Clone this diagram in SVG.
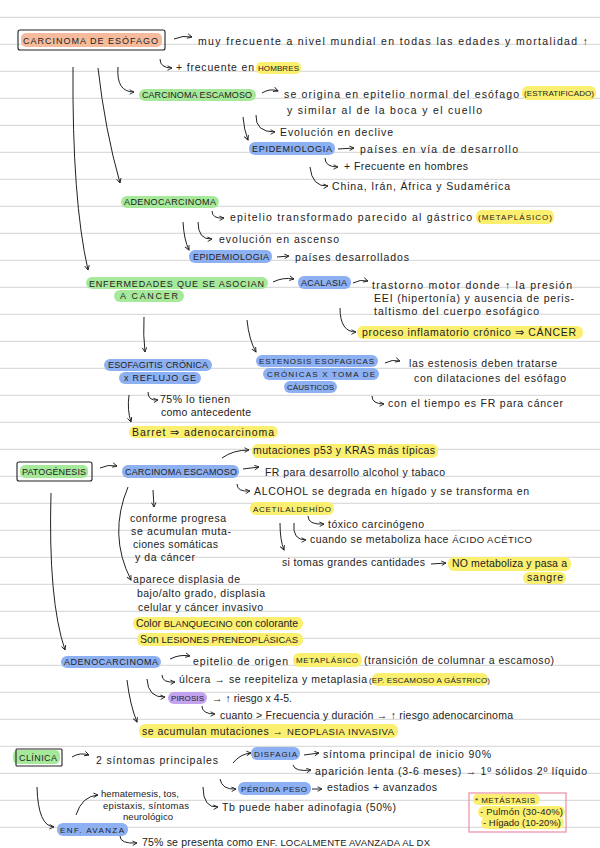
<svg xmlns="http://www.w3.org/2000/svg" width="600" height="848" viewBox="0 0 600 848">
<style>
.bg{fill:#ffffff}
.rule{stroke:#dcdcdc;stroke-width:1.3}
.t{font-family:"Liberation Sans",Arial,sans-serif;font-size:10.5px;fill:#222}
.s{font-family:"Liberation Sans",Arial,sans-serif;font-size:9.5px;fill:#222}
.c{font-family:"Liberation Sans",Arial,sans-serif;font-size:9px;fill:#222}
.c2{font-family:"Liberation Sans",Arial,sans-serif;font-size:8px;fill:#222}
.k{font-size:9.5px}
.g{fill:#a6e99b}
.b{fill:#8db0f2}
.y{fill:#fbef70}
.o{fill:#f5bb9c}
.p{fill:#c3a2f0}
.box{fill:none;stroke:#222;stroke-width:1.1}
.pink{fill:none;stroke:#ec8ea2;stroke-width:1.2}
.cn path{fill:none;stroke:#222;stroke-width:1;marker-end:url(#ah)}
</style>
<defs>
<marker id="ah" viewBox="0 0 8 8" refX="7" refY="4" markerWidth="6" markerHeight="6" orient="auto" markerUnits="userSpaceOnUse">
<path d="M1,1 L7,4 L1,7" fill="none" stroke="#222" stroke-width="1.2"/>
</marker>
</defs>
<rect class="bg" x="0" y="0" width="600" height="848"/>
<g id="rules">
<line class="rule" x1="0" y1="17.3" x2="600" y2="17.3"/>
<line class="rule" x1="0" y1="44.3" x2="600" y2="44.3"/>
<line class="rule" x1="0" y1="71.3" x2="600" y2="71.3"/>
<line class="rule" x1="0" y1="98.3" x2="600" y2="98.3"/>
<line class="rule" x1="0" y1="125.3" x2="600" y2="125.3"/>
<line class="rule" x1="0" y1="152.3" x2="600" y2="152.3"/>
<line class="rule" x1="0" y1="179.3" x2="600" y2="179.3"/>
<line class="rule" x1="0" y1="206.3" x2="600" y2="206.3"/>
<line class="rule" x1="0" y1="233.3" x2="600" y2="233.3"/>
<line class="rule" x1="0" y1="260.3" x2="600" y2="260.3"/>
<line class="rule" x1="0" y1="287.3" x2="600" y2="287.3"/>
<line class="rule" x1="0" y1="314.3" x2="600" y2="314.3"/>
<line class="rule" x1="0" y1="341.3" x2="600" y2="341.3"/>
<line class="rule" x1="0" y1="368.3" x2="600" y2="368.3"/>
<line class="rule" x1="0" y1="395.3" x2="600" y2="395.3"/>
<line class="rule" x1="0" y1="422.3" x2="600" y2="422.3"/>
<line class="rule" x1="0" y1="449.3" x2="600" y2="449.3"/>
<line class="rule" x1="0" y1="476.3" x2="600" y2="476.3"/>
<line class="rule" x1="0" y1="503.3" x2="600" y2="503.3"/>
<line class="rule" x1="0" y1="530.3" x2="600" y2="530.3"/>
<line class="rule" x1="0" y1="557.3" x2="600" y2="557.3"/>
<line class="rule" x1="0" y1="584.3" x2="600" y2="584.3"/>
<line class="rule" x1="0" y1="611.3" x2="600" y2="611.3"/>
<line class="rule" x1="0" y1="638.3" x2="600" y2="638.3"/>
<line class="rule" x1="0" y1="665.3" x2="600" y2="665.3"/>
<line class="rule" x1="0" y1="692.3" x2="600" y2="692.3"/>
<line class="rule" x1="0" y1="719.3" x2="600" y2="719.3"/>
<line class="rule" x1="0" y1="746.3" x2="600" y2="746.3"/>
<line class="rule" x1="0" y1="773.3" x2="600" y2="773.3"/>
<line class="rule" x1="0" y1="800.3" x2="600" y2="800.3"/>
<line class="rule" x1="0" y1="827.3" x2="600" y2="827.3"/>
</g>

<g id="n-title">
<rect class="o" x="21" y="33" width="141" height="14" rx="5"/>
<rect class="box" x="18" y="30" width="147" height="20" rx="2"/>
<text class="c" x="23" y="44" textLength="135">CARCINOMA DE ESÓFAGO</text>
</g>
<g id="n-frecuente">
<text class="t" x="198" y="45" textLength="390">muy frecuente a nivel mundial en todas las edades y mortalidad ↑</text>
</g>
<g id="n-hombres">
<rect class="y" x="256" y="62" width="45" height="12" rx="5"/>
<text class="t" x="176" y="71" textLength="78">+ frecuente en</text>
<text class="c2" x="258" y="71" textLength="41">HOMBRES</text>
</g>

<g id="n-escamoso1">
<rect class="g" x="139" y="89" width="117" height="12" rx="6"/>
<text class="c" x="142" y="98" textLength="110">CARCINOMA ESCAMOSO</text>
</g>
<g id="n-origina">
<rect class="y" x="522" y="86" width="74" height="14" rx="6"/>
<text class="t" x="284" y="98" textLength="235">se origina en epitelio normal del esófago</text>
<text class="c2" x="524" y="96" textLength="70">(ESTRATIFICADO)</text>
<text class="t" x="287" y="114" textLength="195">y similar al de la boca y el cuello</text>
</g>
<g id="n-evol1"><text class="t" x="280" y="136" textLength="113">Evolución en declive</text></g>
<g id="n-epi1">
<rect class="b" x="249" y="142" width="86" height="13" rx="6"/>
<text class="c" x="252" y="152" textLength="80">EPIDEMIOLOGIA</text>
</g>
<g id="n-paises1"><text class="t" x="360" y="153" textLength="158">países en vía de desarrollo</text></g>
<g id="n-hombres2"><text class="t" x="344" y="170" textLength="124">+ Frecuente en hombres</text></g>
<g id="n-china"><text class="t" x="332" y="190" textLength="178">China, Irán, África y Sudamérica</text></g>

<g id="n-adeno1">
<rect class="g" x="121" y="196" width="98" height="12" rx="6"/>
<text class="c" x="124" y="205" textLength="92">ADENOCARCINOMA</text>
</g>
<g id="n-epitelio1">
<rect class="y" x="476" y="210" width="78" height="14" rx="6"/>
<text class="t" x="230" y="221" textLength="242">epitelio transformado parecido al gástrico</text>
<text class="c2" x="478" y="220" textLength="74">(METAPLÁSICO)</text>
</g>
<g id="n-evol2"><text class="t" x="219" y="243" textLength="120">evolución en ascenso</text></g>
<g id="n-epi2">
<rect class="b" x="189" y="250" width="83" height="13" rx="6"/>
<text class="c" x="193" y="260" textLength="76">EPIDEMIOLOGIA</text>
</g>
<g id="n-paises2"><text class="t" x="295" y="261" textLength="114">países desarrollados</text></g>

<g id="n-enfermedades">
<rect class="g" x="86" y="277" width="182" height="12" rx="6"/>
<rect class="g" x="114" y="290" width="70" height="12" rx="6"/>
<text class="c" x="89" y="287" textLength="175">ENFERMEDADES QUE SE ASOCIAN</text>
<text class="c" x="120" y="299" textLength="58">A CANCER</text>
</g>
<g id="n-acalasia">
<rect class="b" x="298" y="276" width="53" height="13" rx="6"/>
<text class="c" x="301" y="286" textLength="46">ACALASIA</text>
</g>
<g id="n-trastorno">
<text class="t" x="372" y="289" textLength="200">trastorno motor donde ↑ la presión</text>
<text class="t" x="374" y="302" textLength="200">EEI (hipertonía) y ausencia de peris-</text>
<text class="t" x="374" y="315" textLength="165">taltismo del cuerpo esofágico</text>
</g>
<g id="n-proceso">
<rect class="y" x="357" y="326" width="226" height="13" rx="6"/>
<text class="t" x="362" y="336" textLength="214">proceso inflamatorio crónico ⇒ CÁNCER</text>
</g>
<g id="n-esofagitis">
<rect class="b" x="104" y="359" width="108" height="12" rx="6"/>
<rect class="b" x="119" y="372" width="82" height="12" rx="6"/>
<text class="c" x="108" y="368" textLength="100">ESOFAGITIS CRÓNICA</text>
<text class="c" x="124" y="381" textLength="72">x REFLUJO GE</text>
</g>
<g id="n-estenosis">
<rect class="b" x="256" y="355" width="122" height="12" rx="6"/>
<rect class="b" x="263" y="368" width="116" height="12" rx="6"/>
<rect class="b" x="284" y="381" width="53" height="12" rx="6"/>
<text class="c2" x="259" y="364" textLength="115">ESTENOSIS ESOFAGICAS</text>
<text class="c2" x="267" y="377" textLength="108">CRÓNICAS X TOMA DE</text>
<text class="c2" x="287" y="390" textLength="47">CÁUSTICOS</text>
</g>
<g id="n-dilat">
<text class="t" x="409" y="367" textLength="148">las estenosis deben tratarse</text>
<text class="t" x="414" y="382" textLength="152">con dilataciones del esófago</text>
</g>
<g id="n-tiempo"><text class="t" x="388" y="407" textLength="175">con el tiempo es FR para cáncer</text></g>
<g id="n-75a">
<text class="t" x="160" y="403" textLength="70">75% lo tienen</text>
<text class="t" x="161" y="416" textLength="90">como antecedente</text>
</g>
<g id="n-barret">
<rect class="y" x="129" y="426" width="149" height="12" rx="6"/>
<text class="t" x="132" y="436" textLength="142">Barret ⇒ adenocarcinoma</text>
</g>

<g id="n-patogenesis">
<rect class="g" x="20" y="465" width="68" height="13" rx="5"/>
<rect class="box" x="17" y="462" width="75" height="19" rx="2"/>
<text class="c" x="22" y="475" textLength="64">PATOGÉNESIS</text>
</g>
<g id="n-escamoso2">
<rect class="b" x="122" y="465" width="117" height="13" rx="6"/>
<text class="c" x="125" y="475" textLength="112">CARCINOMA ESCAMOSO</text>
</g>
<g id="n-mutaciones">
<rect class="y" x="252" y="444" width="186" height="14" rx="6"/>
<text class="t" x="253" y="454" textLength="182">mutaciones p53 y KRAS más típicas</text>
</g>
<g id="n-fr"><text class="t" x="265" y="476" textLength="180">FR para desarrollo alcohol y tabaco</text></g>
<g id="n-alcohol"><text class="t" x="254" y="495" textLength="275">ALCOHOL se degrada en hígado y se transforma en</text></g>
<g id="n-acetil">
<rect class="y" x="250" y="502" width="84" height="13" rx="6"/>
<text class="c2" x="253" y="512" textLength="78">ACETILALDEHÍDO</text>
</g>
<g id="n-toxico"><text class="t" x="328" y="528" textLength="96">tóxico carcinógeno</text></g>
<g id="n-acetico"><text class="t" x="310" y="543" textLength="222">cuando se metaboliza hace <tspan class="k">ÁCIDO ACÉTICO</tspan></text></g>
<g id="n-grandes">
<rect class="y" x="448" y="557" width="123" height="14" rx="6"/>
<rect class="y" x="523" y="572" width="43" height="12" rx="6"/>
<text class="t" x="282" y="566" textLength="143">si tomas grandes cantidades</text>
<text class="t" x="452" y="567" textLength="115">NO metaboliza y pasa a</text>
<text class="t" x="527" y="581" textLength="36">sangre</text>
</g>
<g id="n-conforme">
<text class="t" x="130" y="522" textLength="96">conforme progresa</text>
<text class="t" x="131" y="535" textLength="100">se acumulan muta-</text>
<text class="t" x="133" y="548" textLength="85">ciones somáticas</text>
<text class="t" x="135" y="561" textLength="60">y da cáncer</text>
</g>
<g id="n-displasia">
<text class="t" x="133" y="583" textLength="107">aparece displasia de</text>
<text class="t" x="137" y="597" textLength="128">bajo/alto grado, displasia</text>
<text class="t" x="138" y="611" textLength="125">celular y cáncer invasivo</text>
<rect class="y" x="133" y="617" width="170" height="13" rx="6"/>
<rect class="y" x="137" y="633" width="166" height="13" rx="6"/>
<text class="t" x="136" y="627" textLength="162">Color <tspan class="k">BLANQUECINO</tspan> con colorante</text>
<text class="t" x="140" y="643" textLength="158">Son <tspan class="k">LESIONES PRENEOPLÁSICAS</tspan></text>
</g>

<g id="n-adeno2">
<rect class="b" x="61" y="656" width="100" height="12" rx="6"/>
<text class="c" x="64" y="665" textLength="94">ADENOCARCINOMA</text>
</g>
<g id="n-origen">
<rect class="y" x="293" y="653" width="69" height="14" rx="6"/>
<text class="t" x="193" y="665" textLength="95">epitelio de origen</text>
<text class="c2" x="296" y="663" textLength="62">METAPLÁSICO</text>
<text class="t" x="364" y="664" textLength="190">(transición de columnar a escamoso)</text>
</g>
<g id="n-ulcera">
<rect class="y" x="372" y="673" width="116" height="13" rx="6"/>
<text class="t" x="179" y="683" textLength="188">úlcera → se reepiteliza y metaplasia</text>
<text class="c2" x="369" y="683" textLength="121">(EP. ESCAMOSO A GÁSTRICO)</text>
</g>
<g id="n-pirosis">
<rect class="p" x="168" y="692" width="39" height="12" rx="6"/>
<text class="c2" x="171" y="701" textLength="33">PIROSIS</text>
<text class="t" x="212" y="702" textLength="80">→ ↑ riesgo x 4-5.</text>
</g>
<g id="n-cuanto"><text class="t" x="220" y="719" textLength="293">cuanto &gt; Frecuencia y duración → ↑ riesgo adenocarcinoma</text></g>
<g id="n-neoplasia">
<rect class="y" x="139" y="724" width="259" height="14" rx="6"/>
<text class="t" x="142" y="735" textLength="252">se acumulan mutaciones → <tspan class="k">NEOPLASIA INVASIVA</tspan></text>
</g>

<g id="n-clinica">
<rect class="g" x="13" y="750" width="47" height="14" rx="5"/>
<rect class="box" x="16" y="749" width="46" height="17" rx="1"/>
<text class="c" x="19" y="761" textLength="38">CLÍNICA</text>
</g>
<g id="n-sintomas"><text class="t" x="96" y="764" textLength="122">2 síntomas principales</text></g>
<g id="n-disfagia">
<rect class="b" x="251" y="747" width="49" height="13" rx="6"/>
<text class="c2" x="254" y="757" textLength="43">DISFAGIA</text>
</g>
<g id="n-inicio"><text class="t" x="323" y="758" textLength="168">síntoma principal de inicio 90%</text></g>
<g id="n-aparicion"><text class="t" x="315" y="775" textLength="272">aparición lenta (3-6 meses) → 1º sólidos 2º líquido</text></g>
<g id="n-perdida">
<rect class="b" x="238" y="782" width="73" height="13" rx="6"/>
<text class="c2" x="241" y="792" textLength="66">PÉRDIDA PESO</text>
</g>
<g id="n-estadios"><text class="t" x="327" y="791" textLength="110">estadios + avanzados</text></g>
<g id="n-adinofagia"><text class="t" x="222" y="811" textLength="174">Tb puede haber adinofagia (50%)</text></g>
<g id="n-enfav">
<rect class="b" x="57" y="823" width="71" height="13" rx="6"/>
<text class="c2" x="60" y="833" textLength="64">ENF. AVANZA</text>
</g>
<g id="n-hemat">
<text class="s" x="101" y="797" textLength="78">hematemesis, tos,</text>
<text class="s" x="103" y="809" textLength="86">epistaxis, síntomas</text>
<text class="s" x="123" y="820" textLength="50">neurológico</text>
</g>
<g id="n-75b"><text class="t" x="142" y="846" textLength="288">75% se presenta como <tspan class="k">ENF. LOCALMENTE AVANZADA AL DX</tspan></text></g>
<g id="n-metastasis">
<rect class="pink" x="469" y="793" width="97" height="39"/>
<rect class="y" x="473" y="794" width="67" height="11" rx="5"/>
<rect class="y" x="478" y="806" width="87" height="12" rx="6"/>
<rect class="y" x="481" y="817" width="83" height="12" rx="6"/>
<text class="c2" x="475" y="803" textLength="60">* METÁSTASIS</text>
<text class="s" x="480" y="815" textLength="83">- Pulmón (30-40%)</text>
<text class="s" x="483" y="826" textLength="78">- Hígado (10-20%)</text>
</g>

<g id="connectors" class="cn">
<path d="M174,39 Q183,35 192,37"/>
<path d="M160,59 Q160,68 172,68"/>
<path d="M118,67 Q116,92 134,92"/>
<path d="M98,68 Q105,130 120,183"/>
<path d="M73,67 Q72,200 88,270"/>
<path d="M262,93 Q270,88 278,91"/>
<path d="M243,117 Q244,130 248,140"/>
<path d="M256,115 Q255,132 275,132"/>
<path d="M338,149 L354,148"/>
<path d="M325,158 Q325,167 338,167"/>
<path d="M310,167 Q312,187 328,186"/>
<path d="M212,211 Q212,219 224,218"/>
<path d="M183,222 Q184,240 189,250"/>
<path d="M198,222 Q198,240 212,239"/>
<path d="M277,257 L289,256"/>
<path d="M273,282 Q283,277 294,279"/>
<path d="M353,283 Q360,279 368,281"/>
<path d="M340,308 Q340,332 356,332"/>
<path d="M144,317 Q143,335 145,352"/>
<path d="M247,320 Q249,340 256,352"/>
<path d="M385,363 Q392,359 400,361"/>
<path d="M372,396 Q372,404 384,404"/>
<path d="M148,392 Q148,401 158,400"/>
<path d="M129,395 Q127,410 131,422"/>
<path d="M100,468 Q108,464 117,466"/>
<path d="M222,458 Q233,450 249,450"/>
<path d="M243,469 L259,467"/>
<path d="M237,484 Q237,492 250,491"/>
<path d="M308,516 Q308,525 324,524"/>
<path d="M294,523 Q292,540 306,540"/>
<path d="M280,523 Q280,540 284,550"/>
<path d="M431,564 L446,563"/>
<path d="M153,490 L154,507"/>
<path d="M128,487 Q108,535 131,580"/>
<path d="M51,493 Q48,600 65,650"/>
<path d="M170,659 Q180,654 190,656"/>
<path d="M162,675 Q162,683 175,682"/>
<path d="M147,679 Q148,698 165,697"/>
<path d="M202,706 Q202,714 215,714"/>
<path d="M127,680 Q130,705 137,722"/>
<path d="M72,757 Q80,752 89,755"/>
<path d="M233,763 Q240,754 251,753"/>
<path d="M304,755 L319,753"/>
<path d="M293,765 Q295,772 311,770"/>
<path d="M220,779 Q222,790 236,789"/>
<path d="M312,789 L322,789"/>
<path d="M203,787 Q203,808 218,807"/>
<path d="M37,787 Q38,826 54,827"/>
<path d="M76,815 Q82,796 98,795"/>
<path d="M120,836 Q120,844 137,843"/>
</g>
</svg>
